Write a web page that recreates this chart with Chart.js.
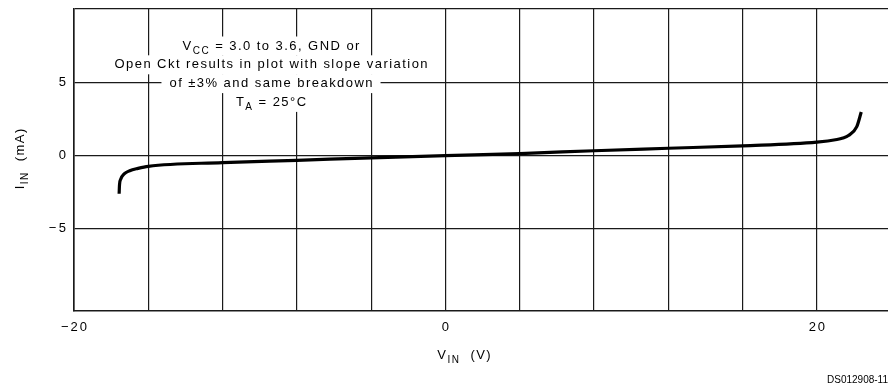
<!DOCTYPE html>
<html>
<head>
<meta charset="utf-8">
<script src="https://cdn.jsdelivr.net/npm/chart.js@4/dist/chart.umd.min.js"></script>
<style>
html,body{margin:0;padding:0;background:#fff;overflow:hidden}
#wrap{width:888px;height:388px}
</style>
</head>
<body>
<div id="wrap"><canvas id="c" width="888" height="388"></canvas></div>
<script>
// ── Data ──
const vinValues=[-17.57,-17.55,-17.48,-17.3,-17.0,-16.55,-16.0,-12,-8,-4,0,4,8,12,16,20,21.08,21.4,21.7,22.15,22.39];
const iinValues=[-2.6,-2.0,-1.6,-1.25,-1.03,-0.87,-0.73,-0.48,-0.32,-0.15,0,0.14,0.33,0.5,0.67,0.92,1.1,1.2,1.37,1.98,2.97];
const xTickValues=[-20,-16,-12,-8,-4,0,4,8,12,16,20];
const xTickLabels={'-20':'\u221220','0':'0','20':'20'};
const yTickValues=[-5,0,5,10];
const yTickLabels={'-5':'\u22125','0':'0','5':'5'};

const FONT='"Liberation Sans", Arial, sans-serif';
const GRID='#1a1a1a';
const LS=1.45; // letter spacing of the plotter-style lettering

// notes block, each line = list of [text, isSub]
const noteLines=[
  [['V',0],['CC',1],[' = 3.0 to 3.6, GND or',0]],
  [['Open Ckt results in plot with slope variation',0]],
  [['of \u00b13% and same breakdown',0]],
  [['T',0],['A',1],[' = 25\u00b0C',0]],
];

// ── Rich text helper (subscripts + spacing) ──
function segSize(sub,size){return sub?Math.round(size*0.78):size}
function segWidth(ctx,t,sub,size,ls){
  ctx.font=segSize(sub,size)+'px '+FONT;
  return ctx.measureText(t).width+t.length*ls;
}
function richWidth(ctx,segs,size,ls=LS){
  let w=0;
  segs.forEach(([t,sub])=>{w+=segWidth(ctx,t,sub,size,ls)});
  return w-ls;
}
function drawRich(ctx,segs,cx,cy,size,ls=LS,align='center'){
  const w=richWidth(ctx,segs,size,ls);
  let x=align==='center'?cx-w/2:align==='right'?cx-w:cx;
  ctx.textBaseline='middle';ctx.textAlign='left';ctx.fillStyle='#000';
  segs.forEach(([t,sub])=>{
    const sw=segWidth(ctx,t,sub,size,ls);
    let px=x;
    for(const ch of t){
      ctx.fillText(ch,px,cy+(sub?size*0.38:0));
      px+=ctx.measureText(ch).width+ls;
    }
    x+=sw;
  });
  return w;
}

const notesPlugin={
  id:'notes',
  beforeDatasetsDraw(chart){
    const ctx=chart.ctx;
    ctx.save();
    const cx=271,y0=46,lh=18.8,size=13;
    noteLines.forEach((segs,i)=>{
      const cy=y0+i*lh;
      const w=richWidth(ctx,segs,size);
      ctx.fillStyle='#fff';
      ctx.fillRect(cx-w/2-8,cy-9.5,w+16,19);
    });
    noteLines.forEach((segs,i)=>drawRich(ctx,segs,cx,y0+i*lh,size));
    ctx.restore();
  },
  afterDraw(chart){
    const ctx=chart.ctx;
    const xs=chart.scales.x,ys=chart.scales.y;
    ctx.save();
    // tick labels, placed through the scales
    xTickValues.forEach(v=>{
      const t=xTickLabels[String(v)];
      if(t)drawRich(ctx,[[t,0]],xs.getPixelForValue(v),chart.chartArea.bottom+16,13,2);
    });
    yTickValues.forEach(v=>{
      const t=yTickLabels[String(v)];
      if(t)drawRich(ctx,[[t,0]],chart.chartArea.left-8,ys.getPixelForValue(v),13,2.5,'right');
    });
    // y axis title
    ctx.translate(20,159);ctx.rotate(-Math.PI/2);
    drawRich(ctx,[['I',0],['IN',1],['  (mA)',0]],0,0,13);
    ctx.restore();
    ctx.save();
    drawRich(ctx,[['V',0],['IN',1],['  (V)',0]],464,355,13);
    ctx.font='10px "Liberation Sans", Arial, sans-serif';
    ctx.fillStyle='#000';ctx.textAlign='left';ctx.textBaseline='middle';
    ctx.fillText('DS012908-11',827,380);
    ctx.restore();
  }
};

new Chart(document.getElementById('c'),{
  type:'line',
  data:{datasets:[{
    data:vinValues.map((v,i)=>({x:v,y:iinValues[i]})),
    borderColor:'#000',borderWidth:3.2,pointRadius:0,fill:false,
    cubicInterpolationMode:'monotone',borderCapStyle:'butt'
  }]},
  options:{
    responsive:false,animation:false,devicePixelRatio:1,
    layout:{padding:{left:0,top:9,right:0,bottom:0}},
    plugins:{legend:{display:false},tooltip:{enabled:false}},
    scales:{
      x:{
        type:'linear',min:-20,max:23.83,
        afterBuildTicks:s=>{s.ticks=xTickValues.map(v=>({value:v}))},
        afterFit:s=>{s.height=77;s.paddingLeft=0;s.paddingRight=0},
        ticks:{autoSkip:false,maxRotation:0,padding:9,font:{size:13},callback:()=>''},
        grid:{color:GRID,lineWidth:1.2,drawTicks:false},
        border:{color:GRID,width:1.6}
      },
      y:{
        type:'linear',min:-10.6,max:10,
        afterBuildTicks:s=>{s.ticks=yTickValues.map(v=>({value:v}))},
        afterFit:s=>{s.width=74;s.paddingTop=0;s.paddingBottom=0},
        ticks:{autoSkip:false,padding:8,font:{size:13},callback:()=>''},
        grid:{color:GRID,lineWidth:1.2,drawTicks:false},
        border:{color:GRID,width:1.6}
      }
    }
  },
  plugins:[notesPlugin]
});
</script>
</body>
</html>
